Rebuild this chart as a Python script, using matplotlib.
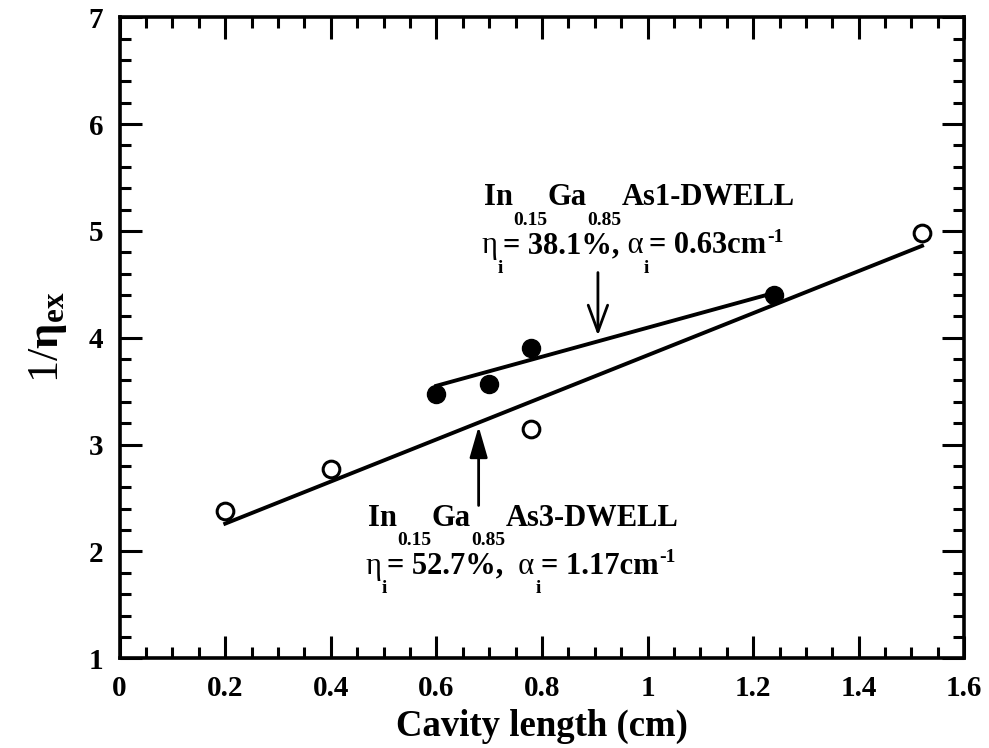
import matplotlib
matplotlib.use("Agg")
import matplotlib.pyplot as plt
from matplotlib.ticker import MultipleLocator

plt.rcParams["font.family"] = ["Liberation Serif", "DejaVu Serif"]
plt.rcParams["font.weight"] = "bold"
plt.rcParams["mathtext.fontset"] = "custom"
plt.rcParams["mathtext.rm"] = "Liberation Serif"
plt.rcParams["mathtext.it"] = "Liberation Serif:italic"
plt.rcParams["mathtext.bf"] = "Liberation Serif:bold"

# 3-DWELL (open circles)
x_3dwell = [0.2, 0.4, 0.78, 1.52]
y_3dwell = [2.38, 2.77, 3.15, 4.98]
fit_3dwell_x = [0.2, 1.52]
fit_3dwell_y = [2.26, 4.86]

# 1-DWELL (filled circles)
x_1dwell = [0.6, 0.7, 0.78, 1.24]
y_1dwell = [3.47, 3.57, 3.90, 4.40]
fit_1dwell_x = [0.6, 1.24]
fit_1dwell_y = [3.55, 4.42]

xtick_vals = [0, 0.2, 0.4, 0.6, 0.8, 1.0, 1.2, 1.4, 1.6]
xtick_labels = ["0", "0.2", "0.4", "0.6", "0.8", "1", "1.2", "1.4", "1.6"]

label_1dwell = [("In", "b"), ("0.15", "sub"), ("Ga", "b"), ("0.85", "sub"),
                ("As1-DWELL", "b")]
param_1dwell = [("η", "g"), ("i", "sub"), ("= 38.1%,", "b"), (" α", "g"),
                ("i", "sub"), ("= 0.63cm", "b"), ("-1", "sup")]
label_3dwell = [("In", "b"), ("0.15", "sub"), ("Ga", "b"), ("0.85", "sub"),
                ("As3-DWELL", "b")]
param_3dwell = [("η", "g"), ("i", "sub"), ("= 52.7%,", "b"), ("  α", "g"),
                ("i", "sub"), ("= 1.17cm", "b"), ("-1", "sup")]


def rich_text(ax, x, y, pieces, size=22, small=14):
    """Chain text pieces so sub/superscripts sit low/high like the original."""
    base = prev = None
    for s, kind in pieces:
        weight = "normal" if kind == "g" else "bold"
        if base is None:
            t = ax.text(x, y, s, fontsize=size, fontweight=weight,
                        va="baseline", ha="left")
            base = t
        elif kind in ("b", "g"):
            t = ax.annotate(s, xy=(1, 0), xycoords=(prev, base), va="bottom",
                            ha="left", fontsize=size, fontweight=weight)
        elif kind == "sub":
            t = ax.annotate(s, xy=(1, 0), xycoords=(prev, base),
                            xytext=(0.5, 0.5), textcoords="offset points",
                            va="top", ha="left", fontsize=small,
                            fontweight="bold")
        else:
            t = ax.annotate(s, xy=(1, 1), xycoords=(prev, base),
                            xytext=(0.5, 2), textcoords="offset points",
                            va="top", ha="left", fontsize=small,
                            fontweight="bold")
        prev = t


fig = plt.figure(figsize=(9.89, 7.48), dpi=100)
ax = fig.add_axes([0.121, 0.12, 0.854, 0.857])

ax.plot(fit_3dwell_x, fit_3dwell_y, color="black", linewidth=2.8)
ax.plot(fit_1dwell_x, fit_1dwell_y, color="black", linewidth=2.8)
ax.plot(x_3dwell, y_3dwell, "o", markersize=12, markerfacecolor="white",
        markeredgecolor="black", markeredgewidth=2.2, linestyle="none")
ax.plot(x_1dwell, y_1dwell, "o", markersize=13, markerfacecolor="black",
        markeredgecolor="black", linestyle="none")

# arrows
ax.annotate("", xy=(0.906, 4.02), xytext=(0.906, 4.61),
            arrowprops=dict(arrowstyle="->,head_length=1.9,head_width=0.7",
                            color="black", lw=2, mutation_scale=10,
                            shrinkA=0, shrinkB=0))
ax.annotate("", xy=(0.68, 3.17), xytext=(0.68, 2.43),
            arrowprops=dict(arrowstyle="-|>,head_length=1.9,head_width=0.55",
                            color="black", lw=2, mutation_scale=10,
                            shrinkA=0, shrinkB=0))

rich_text(ax, 0.69, 5.24, label_1dwell)
rich_text(ax, 0.685, 4.79, param_1dwell)
rich_text(ax, 0.47, 2.24, label_3dwell)
rich_text(ax, 0.465, 1.79, param_3dwell)

ax.set_xlim(0, 1.6)
ax.set_ylim(1, 7)
ax.set_xticks(xtick_vals)
ax.set_xticklabels(xtick_labels)
ax.xaxis.set_minor_locator(MultipleLocator(0.05))
ax.yaxis.set_major_locator(MultipleLocator(1))
ax.yaxis.set_minor_locator(MultipleLocator(0.2))
ax.tick_params(which="both", direction="in", top=True, right=True, width=2.2,
               labelsize=21, pad=12)
ax.tick_params(which="major", length=16)
ax.tick_params(which="minor", length=8)
for s in ax.spines.values():
    s.set_linewidth(2.6)

ax.set_xlabel("Cavity length (cm)", fontsize=26.5, fontweight="bold", labelpad=5)
ax.set_ylabel(r"1/$\mathrm{\eta}_{\mathbf{ex}}$", fontsize=32, labelpad=14)

fig.savefig("out.png", dpi=100)
